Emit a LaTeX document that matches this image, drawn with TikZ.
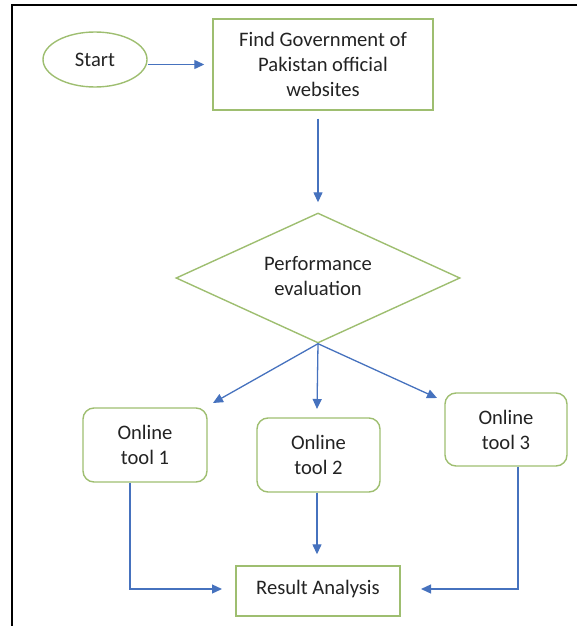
\documentclass[tikz,border=0pt]{standalone}
\usepackage{fontspec}
\setmainfont{Carlito}
\usetikzlibrary{shapes.geometric,arrows.meta,calc}
\definecolor{boxgreen}{RGB}{158,190,112}
\definecolor{arrblue}{RGB}{70,114,190}
\definecolor{txt}{RGB}{35,35,35}
\tikzset{
  base/.style={draw=boxgreen, line width=1.4pt, inner sep=0pt, align=center, text=txt,
    font=\fontsize{20.6}{25}\selectfont},
  sq/.style={base, rectangle},
  rsq/.style={base, rectangle, rounded corners=11pt},
  oval/.style={base, ellipse},
  dia/.style={base, diamond, aspect=2.2},
  arr/.style={draw=arrblue, line width=1.3pt, -{Triangle[length=10pt,width=9pt]}, arrblue},
  frame/.style={draw=black, line width=1.4pt}
}
\begin{document}
\begin{tikzpicture}[x=1pt,y=-1pt]
\useasboundingbox (0,0) rectangle (579,626);
% frame (top and left only)
\coordinate (fa) at (577,5);
\coordinate (fb) at (12,5);
\coordinate (fc) at (12,626);
\draw[frame] (fa) -- (fb) -- (fc);

\node[oval, minimum width=104pt, minimum height=55pt] (start) at (95,59.5) {Start};
\node[sq, minimum width=220pt, minimum height=91pt] (find) at (323,64.5) {Find Government of\\Pakistan official\\websites};
\node[dia, minimum width=284pt, minimum height=130pt] (eval) at (318,278) {\raisebox{2pt}{\begin{tabular}{@{}c@{}}Performance\\evaluation\end{tabular}}};
\node[rsq, minimum width=124pt, minimum height=74pt] (t1) at (145,445) {Online\\tool 1};
\node[rsq, minimum width=123pt, minimum height=74pt] (t2) at (318.5,455) {Online\\tool 2};
\node[rsq, minimum width=122pt, minimum height=73pt] (t3) at (506,429.5) {Online\\tool 3};
\node[sq, minimum width=164pt, minimum height=50pt] (res) at (318,591) {\raisebox{7pt}{Result Analysis}};

% arrow tips / bends
\coordinate (e1) at (213,403);
\coordinate (e2) at (317,409);
\coordinate (e3) at (437,398);
\coordinate (b1) at (130,589);
\coordinate (b3) at (518,589);
\coordinate (r1) at (222,589);
\coordinate (r3) at (421,589);

\draw[arr] (start.east |- find.west) -- ([xshift=-8pt]find.west);
\draw[arr] ([yshift=-8pt]eval.north |- find.south) -- ([yshift=10pt]eval.north);
\draw[arr] (eval.south) -- (e1);
\draw[arr] (eval.south) -- (e2);
\draw[arr] (eval.south) -- (e3);
\draw[arr] (b1 |- t1.south) -- (b1) -- (r1);
\draw[arr] (e2 |- t2.south) -- ([yshift=11pt]e2 |- res.north);
\draw[arr] (b3 |- t3.south) -- (b3) -- (r3);
\end{tikzpicture}
\end{document}
